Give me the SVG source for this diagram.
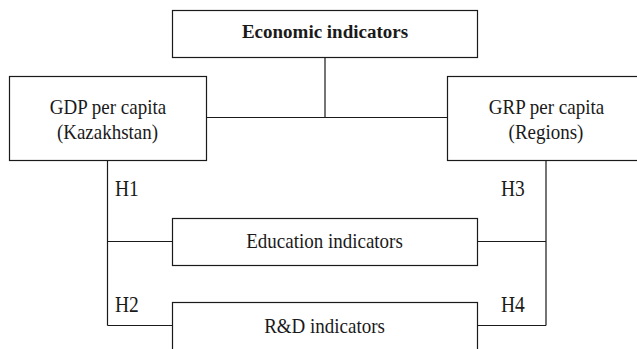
<svg xmlns="http://www.w3.org/2000/svg" width="637" height="349" viewBox="0 0 637 349">
<style>
.box{fill:#fff;stroke:#1a1a1a;stroke-width:1.2}
.ln{fill:none;stroke:#1a1a1a;stroke-width:1.2}
text{font-family:"Liberation Serif","Times New Roman",serif;fill:#1a1a1a;font-size:19px}
.c{text-anchor:middle}
.b{font-weight:bold;font-size:19px}
.h{font-size:19.5px}
</style>
<rect width="637" height="349" fill="#fff"/>
<g id="connectors">
<path class="ln" d="M325,57.5V117.5M206.5,117.5H447.5"/>
<path class="ln" d="M107.5,160.5V325.5M107.5,241.5H172.5M107.5,325.5H172.5"/>
<path class="ln" d="M546,160.5V325.5M477.5,241.5H546M477.5,325.5H546"/>
</g>
<g id="economic">
<rect class="box" x="172.5" y="10.5" width="305" height="47"/>
<text class="c b" transform="translate(325 38.3) scale(1 0.95)">Economic indicators</text>
</g>
<g id="gdp">
<rect class="box" x="9.5" y="76.5" width="197" height="84"/>
<text class="c" transform="translate(108 114) scale(1 1.12)">GDP per capita</text>
<text class="c" transform="translate(107.5 139) scale(1 1.12)">(Kazakhstan)</text>
</g>
<g id="grp">
<rect class="box" x="447.5" y="76.5" width="200" height="84"/>
<text class="c" transform="translate(546.5 114) scale(1 1.12)">GRP per capita</text>
<text class="c" transform="translate(546 139) scale(1 1.12)">(Regions)</text>
</g>
<g id="education">
<rect class="box" x="172.5" y="218.5" width="305" height="47"/>
<text class="c" transform="translate(324.5 248.3) scale(1 1.12)">Education indicators</text>
</g>
<g id="rd">
<rect class="box" x="172.5" y="302.5" width="305" height="60"/>
<text class="c" transform="translate(324.5 332.7) scale(1 1.12)">R&amp;D indicators</text>
</g>
<g id="labels">
<text class="h" transform="translate(115 196) scale(1 1.15)">H1</text>
<text class="h" transform="translate(115 311.7) scale(1 1.15)">H2</text>
<text class="h" transform="translate(501 196) scale(1 1.15)">H3</text>
<text class="h" transform="translate(501 311.7) scale(1 1.15)">H4</text>
</g>
</svg>
